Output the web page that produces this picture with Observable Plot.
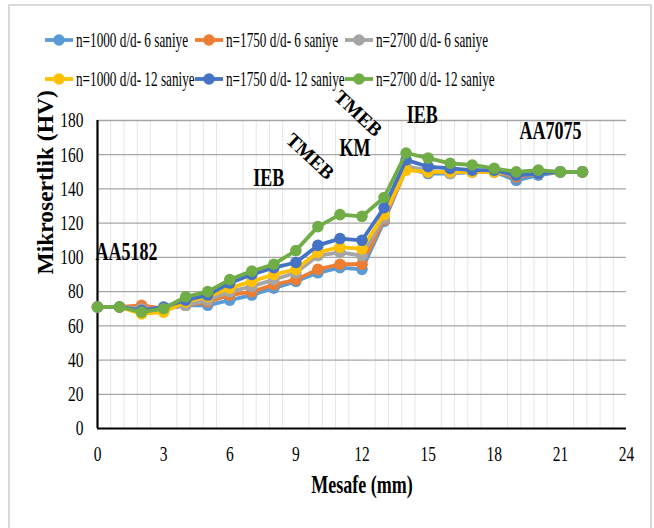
<!DOCTYPE html>
<html><head><meta charset="utf-8">
<script src="https://cdn.jsdelivr.net/npm/d3@7"></script>
<script src="https://cdn.jsdelivr.net/npm/@observablehq/plot@0.6"></script>
<style>
html,body{margin:0;padding:0;background:#fff;}
#wrap{position:relative;width:654px;height:528px;overflow:hidden;background:#fff;}
#chart{position:absolute;left:0;top:0;}
#legend{position:absolute;left:0;top:0;}
#frame{position:absolute;left:8px;top:4px;width:644px;height:600px;border:2px solid #d9d9d9;box-sizing:border-box;pointer-events:none;}
</style></head><body>
<div id="wrap"><div id="chart"></div><svg id="legend" width="654" height="100"></svg><div id="frame"></div></div>
<script>
// ---- data ----
const distance = [0,1,2,3,4,5,6,7,8,9,10,11,12,13,14,15,16,17,18,19,20,21,22];
const seriesNames = [
  "n=1000 d/d- 6 saniye", "n=1750 d/d- 6 saniye", "n=2700 d/d- 6 saniye",
  "n=1000 d/d- 12 saniye", "n=1750 d/d- 12 saniye", "n=2700 d/d- 12 saniye"
];
const hv1000_6  = [71,71,70,70,72,72,75,78,82,86,91,94,93,121,152,149,149,150,150,145,148,150,150];
const hv1750_6  = [71,71,72,70,72,74,78,80,84,87,93,96,96,122,152,150,150,150,150,147,149,150,150];
const hv2700_6  = [71,71,70,70,72,75,80,83,87,91,101,103,101,123,153,151,149,150,150,148,149,150,150];
const hv1000_12 = [71,71,67,68,74,77,82,86,90,93,103,106,105,125,151,150,150,150,150,149,149,150,150];
const hv1750_12 = [71,71,69,71,75,78,85,90,94,97,107,111,110,129,157,153,152,151,151,148,149,150,150];
const hv2700_12 = [71,71,68,70,77,80,87,92,96,104,118,125,124,135,161,158,155,154,152,150,151,150,150];
const seriesValues = [hv1000_6, hv1750_6, hv2700_6, hv1000_12, hv1750_12, hv2700_12];
const yTicks = [0,20,40,60,80,100,120,140,160,180];
const xTicks = [0,3,6,9,12,15,18,21,24];
const xTitle = "Mesafe (mm)";
const yTitle = "Mikrosertlik (HV)";
const annoLabels = ["AA5182","IEB","TMEB","KM","TMEB","IEB","AA7075"];
const annoX = [1.32, 7.77, 9.64, 11.68, 11.82, 14.73, 20.55];
const annoY = [103.4, 146.4, 159, 164.2, 184.1, 183.5, 173.6];

// ---- styles ----
const seriesColors = ["#5B9BD5","#ED7D31","#A5A5A5","#FFC000","#4472C4","#70AD47"];
const annoRotate = [0,0,43,0,43,0,0];
const serif = "Liberation Serif, Times New Roman, serif";

const table = seriesNames.map((name, s) => distance.map((d, i) => ({series: name, x: d, y: seriesValues[s][i]})));
const minor = d3.range(1, 40).filter(i => i % 5 !== 0).map(i => i * 0.6);
const flatIdx = annoLabels.map((d,i)=>i).filter(i => annoRotate[i] === 0);
const rotIdx = annoLabels.map((d,i)=>i).filter(i => annoRotate[i] !== 0);

const svg = Plot.plot({
  width: 654, height: 528,
  marginTop: 120, marginBottom: 100, marginLeft: 97, marginRight: 28,
  style: {background: "transparent", overflow: "visible"},
  x: {domain: [0, 24], axis: null},
  y: {domain: [0, 180], axis: null},
  marks: [
    Plot.ruleX(minor, {x: d => d, y1: 0, y2: 180, stroke: "#e6e6e6", strokeWidth: 1}),
    Plot.ruleY(yTicks.filter(d => d > 0), {y: d => d, stroke: "#a6a6a6", strokeWidth: 1.3}),
    Plot.ruleY([0], {stroke: "#000", strokeWidth: 2.2}),
    Plot.ruleX([0], {stroke: "#000", strokeWidth: 2.2}),
    ...table.flatMap((rows, s) => [
      Plot.line(rows, {x: "x", y: "y", stroke: seriesColors[s], strokeWidth: 3.8}),
      Plot.dot(rows, {x: "x", y: "y", fill: seriesColors[s], r: 5.8})
    ]),
    Plot.text(yTicks, {x: 0, y: d => d, text: d => String(d), dx: -14, textAnchor: "end", fontSize: 21.5, fontFamily: serif, fill: "#000"}),
    Plot.text(xTicks, {x: d => d, y: 0, text: d => String(d), dy: 26, fontSize: 21.5, fontFamily: serif, fill: "#000"}),
    Plot.text([xTitle], {frameAnchor: "bottom", text: d => d, dy: 64, fontSize: 25, fontWeight: "bold", fontFamily: serif, fill: "#000"}),
    Plot.text([yTitle], {frameAnchor: "left", text: d => d, dx: -52, rotate: -90, fontSize: 23.5, fontWeight: "bold", fontFamily: serif, fill: "#000"}),
    Plot.text(flatIdx, {x: i => annoX[i], y: i => annoY[i], text: i => annoLabels[i], fontSize: 25, fontWeight: "bold", fontFamily: serif, fill: "#000"}),
    Plot.text(rotIdx, {x: i => annoX[i], y: i => annoY[i], text: i => annoLabels[i], rotate: 43, fontSize: 19.5, fontWeight: "bold", fontFamily: serif, fill: "#000"})
  ]
});
// narrow the upright glyphs like the reference rendering
d3.select(svg).selectAll("text").each(function() {
  const t = this.getAttribute("transform") || "";
  if (!t.includes("rotate")) this.setAttribute("transform", t + " scale(0.72,1)");
});
document.getElementById("chart").appendChild(svg);

// ---- legend ----
const leg = d3.select("#legend");
seriesNames.forEach((name, s) => {
  const g = leg.append("g").attr("transform", `translate(${45 + 150 * (s % 3)},${s < 3 ? 40 : 79})`);
  g.append("line").attr("x1", 0).attr("x2", 28).attr("stroke", seriesColors[s]).attr("stroke-width", 3.8);
  g.append("circle").attr("cx", 14).attr("r", 5.8).attr("fill", seriesColors[s]);
  g.append("text").attr("transform", "translate(31,0) scale(0.645,1)").attr("dy", "0.35em")
    .attr("font-family", serif).attr("font-size", 20.5).attr("fill", "#000").text(name);
});
</script>
</body></html>
